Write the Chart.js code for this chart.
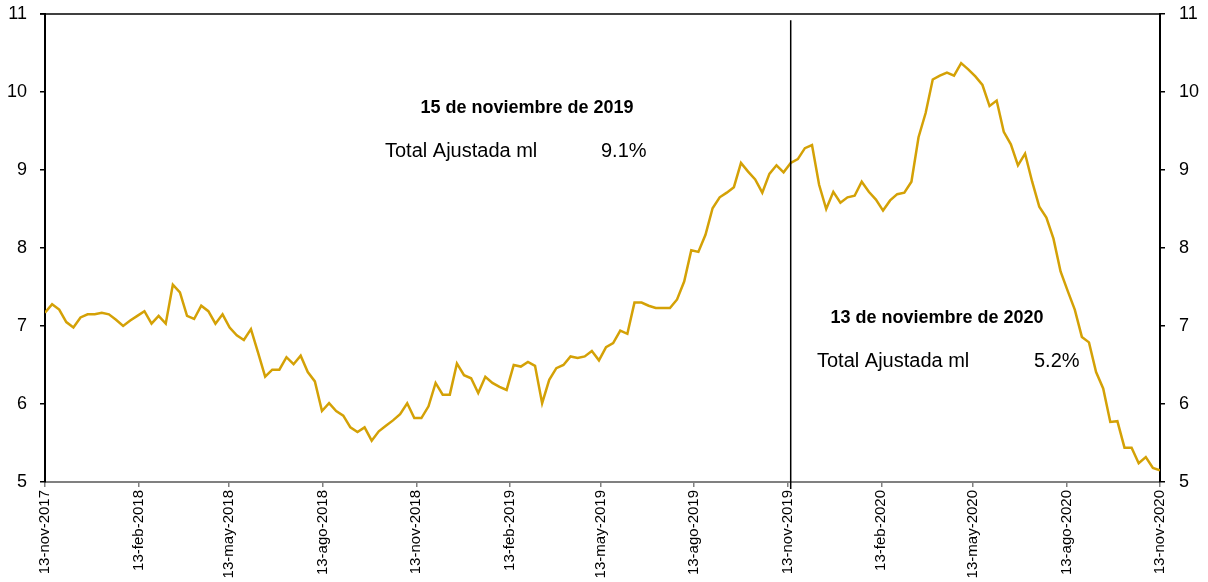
<!DOCTYPE html>
<html>
<head>
<meta charset="utf-8">
<script src="https://cdn.jsdelivr.net/npm/chart.js@4/dist/chart.umd.min.js"></script>
<style>
  html, body { margin: 0; padding: 0; background: #fff; }
  #wrap { width: 1208px; height: 582px; }
</style>
</head>
<body>
<div id="wrap"><canvas id="chart" width="1208" height="582"></canvas></div>
<script>
// etiquetas del eje x (trimestrales) y su día desde 13-nov-2017
var tickLabels = [
  "13-nov-2017", "13-feb-2018", "13-may-2018", "13-ago-2018", "13-nov-2018",
  "13-feb-2019", "13-may-2019", "13-ago-2019", "13-nov-2019", "13-feb-2020",
  "13-may-2020", "13-ago-2020", "13-nov-2020"
];
var tickDias = [0, 92, 181, 273, 365, 457, 546, 638, 730, 822, 912, 1004, 1096];

// tasa semanal, total ajustada ml (%)
var tasa = [
  7.17, 7.28, 7.21, 7.05, 6.98, 7.11, 7.15, 7.15, 7.17, 7.15,
  7.08, 7.00, 7.07, 7.13, 7.19, 7.03, 7.13, 7.03, 7.53, 7.43,
  7.13, 7.09, 7.26, 7.19, 7.03, 7.15, 6.98, 6.88, 6.82, 6.96,
  6.66, 6.35, 6.44, 6.44, 6.60, 6.51, 6.62, 6.41, 6.29, 5.91,
  6.01, 5.91, 5.85, 5.70, 5.64, 5.70, 5.53, 5.65, 5.72, 5.79,
  5.87, 6.01, 5.82, 5.82, 5.97, 6.27, 6.12, 6.12, 6.52, 6.37,
  6.33, 6.14, 6.35, 6.27, 6.22, 6.18, 6.50, 6.48, 6.54, 6.49,
  6.01, 6.31, 6.46, 6.50, 6.61, 6.59, 6.61, 6.68, 6.56, 6.73,
  6.78, 6.94, 6.90, 7.30, 7.30, 7.26, 7.23, 7.23, 7.23, 7.34,
  7.57, 7.97, 7.95, 8.17, 8.51, 8.65, 8.71, 8.78, 9.09, 8.98,
  8.88, 8.71, 8.95, 9.06, 8.97, 9.09, 9.14, 9.28, 9.32, 8.81,
  8.50, 8.72, 8.58, 8.65, 8.67, 8.85, 8.72, 8.62, 8.48, 8.61,
  8.69, 8.71, 8.85, 9.42, 9.73, 10.16, 10.21, 10.25, 10.21, 10.37,
  10.29, 10.20, 10.09, 9.82, 9.89, 9.49, 9.33, 9.06, 9.21, 8.85,
  8.53, 8.39, 8.12, 7.70, 7.45, 7.21, 6.86, 6.79, 6.41, 6.20,
  5.77, 5.78, 5.44, 5.44, 5.24, 5.32, 5.18, 5.15
];

var yTicks = [5, 6, 7, 8, 9, 10, 11];

// textos de anotación
var notas = [
  { titulo: "15 de noviembre de 2019", etiqueta: "Total Ajustada ml", valor: "9.1%" },
  { titulo: "13 de noviembre de 2020", etiqueta: "Total Ajustada ml", valor: "5.2%" }
];
var marcaIdx = 105; // semana del 15-nov-2019

var lastIdx = tasa.length - 1;
var totalDias = tickDias[tickDias.length - 1];
var diasPorPunto = totalDias / lastIdx;
var puntos = tasa.map(function (v, i) { return { x: i * diasPorPunto, y: v }; });

var AXIS_FONT = "'Liberation Sans', Arial, sans-serif";

// ancho fijo de los ejes y sin margen extra arriba/abajo
function fijarEjeY(ancho) {
  return function (scale) {
    scale.width = ancho;
    scale.paddingTop = 10;
    scale.paddingBottom = 10;
  };
}

// líneas extra y textos
var extras = {
  id: "extras",
  afterDatasetsDraw: function (chart) {
    var ctx = chart.ctx;
    var a = chart.chartArea;
    var xs = chart.scales.x;
    var ys = chart.scales.y;
    ctx.save();
    // línea superior
    ctx.strokeStyle = "#000";
    ctx.lineWidth = 1.5;
    ctx.beginPath();
    ctx.moveTo(a.left - 5, ys.getPixelForValue(11));
    ctx.lineTo(a.right, ys.getPixelForValue(11));
    ctx.stroke();
    // línea vertical
    var xv = xs.getPixelForValue(marcaIdx * diasPorPunto);
    ctx.beginPath();
    ctx.moveTo(xv, ys.getPixelForValue(10.92));
    ctx.lineTo(xv, a.bottom + 7);
    ctx.stroke();

    ctx.fillStyle = "#000";
    ctx.textBaseline = "middle";
    // nota 2019
    ctx.font = "bold 18px " + AXIS_FONT;
    ctx.textAlign = "center";
    ctx.fillText(notas[0].titulo, 527, 108);
    ctx.font = "20px " + AXIS_FONT;
    ctx.textAlign = "left";
    ctx.fillText(notas[0].etiqueta, 385, 151);
    ctx.fillText(notas[0].valor, 601, 151);
    // nota 2020
    ctx.font = "bold 18px " + AXIS_FONT;
    ctx.textAlign = "center";
    ctx.fillText(notas[1].titulo, 937, 318);
    ctx.font = "20px " + AXIS_FONT;
    ctx.textAlign = "left";
    ctx.fillText(notas[1].etiqueta, 817, 361);
    ctx.fillText(notas[1].valor, 1034, 361);
    ctx.restore();
  }
};

var ctx = document.getElementById("chart").getContext("2d");
new Chart(ctx, {
  type: "line",
  data: {
    datasets: [
      {
        label: "Total Ajustada ml",
        data: puntos,
        borderColor: "#D4A106",
        borderWidth: 2.5,
        pointRadius: 0,
        tension: 0,
        fill: false,
        yAxisID: "y"
      }
    ]
  },
  options: {
    responsive: false,
    animation: false,
    layout: { padding: { top: 14, bottom: 0, left: 0, right: 0 } },
    plugins: {
      legend: { display: false },
      tooltip: { enabled: false }
    },
    scales: {
      x: {
        type: "linear",
        min: 0,
        max: totalDias,
        afterBuildTicks: function (scale) {
          scale.ticks = tickDias.map(function (d) { return { value: d }; });
        },
        afterFit: function (scale) { scale.height = 100; },
        border: { display: true, color: "#808080", width: 2 },
        grid: { display: true, drawOnChartArea: false, drawTicks: true, tickLength: 5, color: "#808080", lineWidth: 1.5 },
        ticks: {
          autoSkip: false,
          maxRotation: 90,
          minRotation: 90,
          padding: 3,
          color: "#000",
          font: { family: AXIS_FONT, size: 15 },
          callback: function (value, index) { return tickLabels[index]; }
        }
      },
      y: {
        position: "left",
        min: 5,
        max: 11,
        afterBuildTicks: function (scale) {
          scale.ticks = yTicks.map(function (v) { return { value: v }; });
        },
        afterFit: fijarEjeY(45),
        border: { display: true, color: "#000", width: 2 },
        grid: { display: true, drawOnChartArea: false, drawTicks: true, tickLength: 5, color: "#000", lineWidth: 1.5 },
        ticks: {
          padding: 13,
          color: "#000",
          font: { family: AXIS_FONT, size: 18 }
        }
      },
      y2: {
        position: "right",
        min: 5,
        max: 11,
        afterBuildTicks: function (scale) {
          scale.ticks = yTicks.map(function (v) { return { value: v }; });
        },
        afterFit: fijarEjeY(48),
        border: { display: true, color: "#000", width: 2 },
        grid: { display: true, drawOnChartArea: false, drawTicks: true, tickLength: 5, color: "#000", lineWidth: 1.5 },
        ticks: {
          padding: 14,
          color: "#000",
          font: { family: AXIS_FONT, size: 18 }
        }
      }
    }
  },
  plugins: [extras]
});
</script>
</body>
</html>
